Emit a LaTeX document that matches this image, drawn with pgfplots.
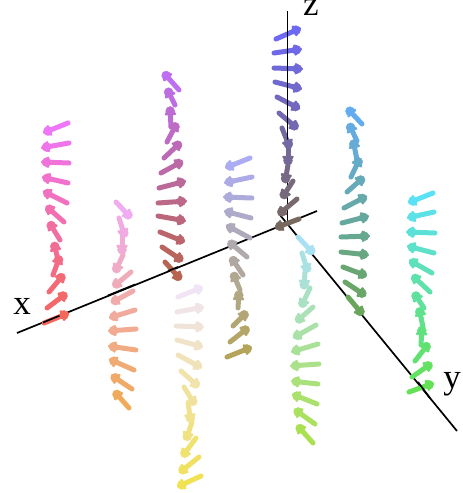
\documentclass[border=0pt]{standalone}
\usepackage{fontspec}
\setmainfont{Liberation Serif}
\usepackage{pgfplots}
\usepackage{pgfplotstable}
\pgfplotsset{compat=1.18}
\usetikzlibrary{arrows.meta}

% colour goes with height: first row is the top of the column
\pgfplotsset{
  colormap={colA}{rgb255(0)=(238,118,248) rgb255(1)=(244,104,92)},
  colormap={colB}{rgb255(0)=(240,172,240) rgb255(1)=(240,170,90)},
  colormap={colC}{rgb255(0)=(240,228,245) rgb255(1)=(240,225,85)},
  colormap={colD}{rgb255(0)=(190,110,240) rgb255(1)=(185,100,80)},
  colormap={colE}{rgb255(0)=(172,172,245) rgb255(1)=(180,165,90)},
  colormap={colF}{rgb255(0)=(110,105,245) rgb255(1)=(120,105,95)},
  colormap={colG}{rgb255(0)=(100,172,240) rgb255(1)=(105,165,90)},
  colormap={colH}{rgb255(0)=(170,225,242) rgb255(1)=(170,225,80)},
  colormap={colI}{rgb255(0)=(90,225,245) rgb255(1)=(100,225,85)},
}

\pgfplotstableread{
x y u v
68 123 -25 10
69 143 -28 5
69 163 -28 -1
68 183 -26 -6
67 203 -24 -12
64 222 -18 -16
60 240 -11 -18
58 260 -4 -17
53 275 7 -19
49 292 15 -18
47 308 20 -15
44 323 25 -10
}\tabA
\pgfplotstableread{
x y u v
116 202 15 16
119 218 6 19
122 237 0 16
123 255 -8 17
131 272 -18 15
133 291 -22 12
135 310 -26 8
136 329 -28 2
136 350 -28 -4
134 370 -25 -11
132 389 -21 -14
129 408 -15 -17
}\tabB
\pgfplotstableread{
x y u v
178 297 25 -10
177 312 27 -5
176 326 28 1
177 340 26 7
178 355 24 13
181 371 18 16
184 387 11 18
188 403 3 19
192 422 -6 18
196 438 -14 19
199 457 -20 16
201 476 -24 11
}\tabC
\pgfplotstableread{
x y u v
179 90 -16 -18
175 105 -8 -16
171 127 -1 -20
167 142 10 -19
164 158 17 -16
161 173 22 -12
159 188 27 -7
158 203 29 -2
158 216 28 5
160 232 25 10
162 247 21 14
165 262 16 18
}\tabD
\pgfplotstableread{
x y u v
250 158 -25 10
252 177 -28 6
252 198 -29 -1
251 218 -27 -7
250 238 -24 -13
247 257 -19 -16
243 275 -12 -18
240 290 -7 -17
238 308 1 -16
233 326 14 -14
230 342 19 -15
227 357 25 -10
}\tabE
\pgfplotstableread{
x y u v
276 39 25 -11
274 53 28 -4
274 68 29 1
275 82 27 7
277 97 23 12
279 113 19 16
282 128 8 20
288 147 0 17
288 165 -3 17
293 181 -11 17
297 199 -19 16
299 219 -24 9
}\tabF
\pgfplotstableread{
x y u v
362 124 -15 -16
357 141 -8 -17
357 160 -4 -20
351 177 9 -19
347 192 17 -15
344 208 23 -12
342 223 27 -7
341 237 29 -1
341 252 28 3
343 267 24 9
345 282 21 14
348 297 15 18
}\tabG
\pgfplotstableread{
x y u v
298 237 16 17
302 253 6 19
305 272 -1 16
310 288 -9 19
313 307 -17 15
316 325 -23 13
318 344 -27 8
319 364 -29 2
318 384 -27 -3
317 404 -25 -10
315 424 -21 -15
313 443 -16 -18
}\tabH
\pgfplotstableread{
x y u v
433 193 -25 10
434 212 -27 6
435 233 -29 -1
434 253 -27 -7
432 273 -23 -13
430 292 -18 -17
424 308 -10 -15
423 327 -4 -19
421 345 1 -18
415 361 14 -18
412 377 20 -14
409 392 25 -9
}\tabI

\pgfplotsset{
  arrowcol/.style={
    colormap name=#1,
    point meta=\coordindex,
    quiver={u=\thisrow{u}, v=\thisrow{v},
      every arrow/.append style={draw=mapped color, fill=mapped color,
        line width=5pt, line cap=round, line join=round,
        -{Triangle[length=9pt,width=13pt,line width=5pt,round]}}},
  },
  % fills the arrow head, which comes out hollow when it is this wide
  headcol/.style={
    colormap name=#1,
    point meta=\coordindex,
    only marks, scatter, mark=*, mark size=4.5pt,
    scatter/use mapped color={draw=mapped color, fill=mapped color},
  },
}

\newcommand{\arrowcolumn}[2]{%
  \addplot[arrowcol=#1] table {#2};
  \addplot[headcol=#1] table[x expr=\thisrow{x}+0.8*\thisrow{u}, y expr=\thisrow{y}+0.8*\thisrow{v}] {#2};
}

\begin{document}
\begin{tikzpicture}
\path[use as bounding box] (0,0) rectangle (463pt,493pt);
\begin{axis}[
  scale only axis, width=463pt, height=493pt,
  xmin=0, xmax=463, ymin=0, ymax=493, y dir=reverse,
  point meta min=0, point meta max=11,
  hide axis, clip=false,
]
% axes underneath
\addplot[black, line width=1.7pt] coordinates {(287.5,11)(287.5,222)};
\addplot[black, line width=1.7pt] coordinates {(17,333)(317,211)};
\addplot[black, line width=1.7pt] coordinates {(280,215)(457,431)};

\arrowcolumn{colF}{\tabF}
\arrowcolumn{colG}{\tabG}
\arrowcolumn{colE}{\tabE}
\arrowcolumn{colH}{\tabH}
\arrowcolumn{colD}{\tabD}
\arrowcolumn{colI}{\tabI}
\arrowcolumn{colA}{\tabA}
\arrowcolumn{colB}{\tabB}
\arrowcolumn{colC}{\tabC}

% axis pieces that pass in front of the arrows
\addplot[black, line width=1.7pt] coordinates {(287.5,11)(287.5,140)};
\addplot[black, line width=1.7pt] coordinates {(43,322.5)(60,315.5)};
\addplot[black, line width=1.7pt] coordinates {(108,295.5)(135,284.5)};
\addplot[black, line width=1.7pt] coordinates {(168,271)(178,267)};
\addplot[black, line width=1.7pt] coordinates {(418,382)(430,398)};

\node[font=\fontsize{35}{35}\selectfont, anchor=base] at (axis cs:22,314) {x};
\node[font=\fontsize{35}{35}\selectfont, anchor=base] at (axis cs:452,388) {y};
\node[font=\fontsize{35}{35}\selectfont, anchor=base] at (axis cs:311,15) {z};
\end{axis}
\end{tikzpicture}
\end{document}
